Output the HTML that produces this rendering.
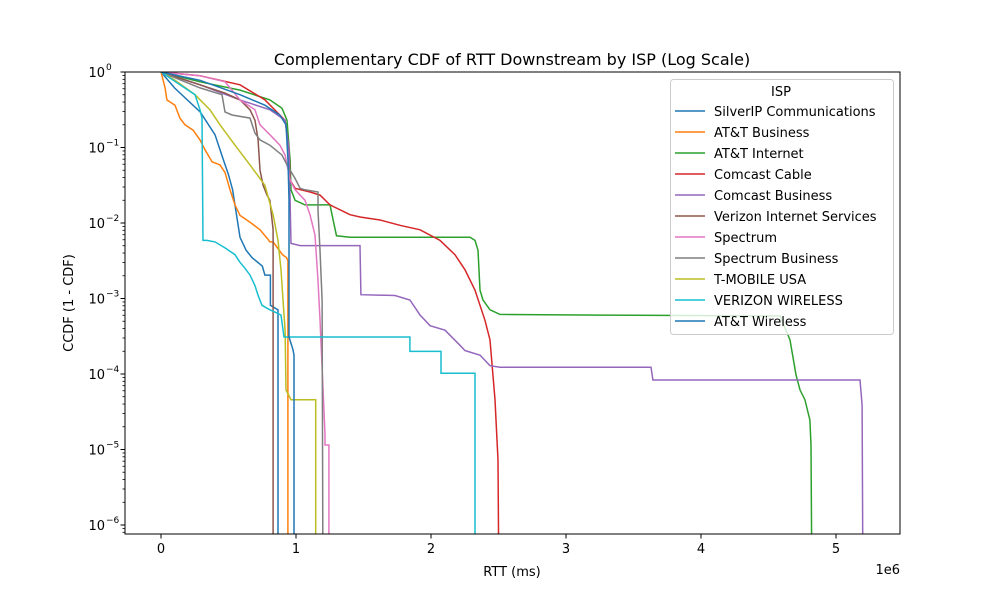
<!DOCTYPE html>
<html><head><meta charset="utf-8"><style>
body{margin:0;background:#fff}
svg text{font-family:"DejaVu Sans","Liberation Sans",sans-serif;fill:#000}
</style></head><body>
<svg id="chart" width="1000" height="600" viewBox="0 0 1000 600" xmlns="http://www.w3.org/2000/svg">
<rect width="1000" height="600" fill="#fff"/>
<defs><clipPath id="pc"><rect x="125" y="72" width="775" height="462"/></clipPath></defs>
<text x="512" y="65" font-size="16" text-anchor="middle">Complementary CDF of RTT Downstream by ISP (Log Scale)</text>
<g id="axes"></g>
<g id="series" clip-path="url(#pc)"></g>
<rect x="125" y="72" width="775" height="462" fill="none" stroke="#000" stroke-width="1"/>
<g id="legend"></g>
<text x="512" y="576" font-size="13" text-anchor="middle">RTT (ms)</text>
<text x="900" y="574" font-size="13" text-anchor="end">1e6</text>
<text x="73" y="303" font-size="13" text-anchor="middle" transform="rotate(-90 73 303)">CCDF (1 - CDF)</text>
</svg>
<script>
// x values in units of 1e6 ms; y values as log10(CCDF)
const names = ["SilverIP Communications","AT&T Business","AT&T Internet","Comcast Cable","Comcast Business","Verizon Internet Services","Spectrum","Spectrum Business","T-MOBILE USA","VERIZON WIRELESS","AT&T Wireless"];
const colors = ["#1f77b4","#ff7f0e","#2ca02c","#d62728","#9467bd","#8c564b","#e377c2","#7f7f7f","#bcbd22","#17becf","#1f77b4"];
const xTicks = [0,1,2,3,4,5];
const xTickLabels = ["0","1","2","3","4","5"];
const yTicks = [0,-1,-2,-3,-4,-5,-6];
const yTickLabels = ["0","−1","−2","−3","−4","−5","−6"];

const silverX = [0,0.10,0.29,0.40,0.45,0.50,0.53,0.585,0.63,0.675,0.75,0.77,0.81,0.81,0.867,0.867];
const silverY = [0,-0.21,-0.53,-0.83,-1.1,-1.36,-1.56,-2.19,-2.36,-2.46,-2.57,-2.69,-2.69,-3.09,-3.15,-7];
const attBizX = [0,0.03,0.044,0.104,0.14,0.178,0.237,0.289,0.326,0.378,0.437,0.474,0.511,0.548,0.585,0.659,0.733,0.785,0.807,0.83,0.9,0.93,0.94,0.94];
const attBizY = [0,-0.21,-0.37,-0.44,-0.61,-0.70,-0.77,-0.90,-1.03,-1.19,-1.23,-1.33,-1.56,-1.76,-1.90,-1.99,-2.09,-2.2,-2.25,-2.25,-2.42,-2.46,-2.5,-7];
const attIntX = [0,0.289,0.585,0.807,0.896,0.933,0.956,0.963,0.993,1.067,1.252,1.267,1.30,1.40,2.289,2.326,2.348,2.363,2.385,2.437,2.511,3.252,4.585,4.659,4.704,4.733,4.77,4.807,4.815,4.822];
const attIntY = [0,-0.13,-0.24,-0.37,-0.48,-0.64,-1.17,-1.56,-1.70,-1.76,-1.76,-1.89,-2.17,-2.19,-2.19,-2.23,-2.36,-2.89,-3.02,-3.15,-3.21,-3.22,-3.23,-3.55,-4.01,-4.21,-4.34,-4.61,-4.94,-7];
const comCabX = [0,0.289,0.585,0.77,0.919,0.948,0.956,0.993,1.104,1.178,1.252,1.4,1.474,1.622,1.77,1.919,2.067,2.178,2.252,2.326,2.4,2.437,2.474,2.496,2.504];
const comCabY = [0,-0.05,-0.17,-0.37,-0.64,-1.03,-1.43,-1.54,-1.59,-1.63,-1.76,-1.89,-1.92,-1.96,-2.03,-2.09,-2.23,-2.42,-2.62,-2.89,-3.29,-3.55,-4.34,-5.14,-7];
const comBizX = [0,0.289,0.585,0.807,0.919,0.948,0.956,0.963,1.03,1.474,1.481,1.733,1.844,1.919,1.993,2.104,2.215,2.252,2.363,2.437,2.511,3.63,3.644,5.178,5.193,5.2];
const comBizY = [0,-0.17,-0.37,-0.50,-0.64,-1.03,-1.70,-2.27,-2.30,-2.30,-2.95,-2.96,-3.02,-3.22,-3.36,-3.42,-3.62,-3.69,-3.75,-3.89,-3.91,-3.91,-4.08,-4.08,-4.41,-7];
const vzInetX = [0,0.289,0.474,0.585,0.659,0.696,0.719,0.733,0.756,0.785,0.807,0.83,0.83];
const vzInetY = [0,-0.17,-0.28,-0.37,-0.50,-0.64,-0.9,-1.30,-1.50,-1.63,-1.70,-2.09,-7];
const spectrumX = [0,0.289,0.474,0.585,0.696,0.733,0.807,0.881,0.919,0.956,0.993,1.067,1.104,1.141,1.163,1.178,1.215,1.215,1.244,1.244];
const spectrumY = [0,-0.05,-0.13,-0.37,-0.50,-0.70,-0.83,-0.97,-1.10,-1.43,-1.56,-1.70,-1.89,-2.16,-2.76,-3.28,-4.8,-4.94,-4.94,-7];
const specBizX = [0,0.289,0.452,0.474,0.526,0.659,0.696,0.733,0.807,0.896,0.933,0.993,1.03,1.067,1.163,1.163,1.178,1.193,1.2];
const specBizY = [0,-0.21,-0.30,-0.53,-0.57,-0.61,-0.81,-0.90,-0.97,-1.10,-1.23,-1.41,-1.54,-1.56,-1.59,-1.83,-2.36,-3.02,-7];
const tmoX = [0,0.104,0.252,0.363,0.437,0.548,0.659,0.77,0.83,0.867,0.889,0.904,0.919,0.926,0.963,1.146,1.146];
const tmoY = [0,-0.11,-0.30,-0.50,-0.70,-0.97,-1.23,-1.50,-1.89,-2.23,-2.62,-3.02,-3.42,-4.21,-4.34,-4.34,-7];
const vzWirelessX = [0,0.141,0.252,0.289,0.304,0.311,0.341,0.4,0.474,0.548,0.585,0.622,0.659,0.696,0.719,0.748,0.807,0.844,0.889,0.911,1.844,1.844,2.074,2.074,2.326,2.326];
const vzWirelessY = [0,-0.17,-0.30,-0.50,-0.61,-2.23,-2.23,-2.25,-2.33,-2.42,-2.52,-2.60,-2.69,-2.83,-2.96,-3.09,-3.15,-3.18,-3.22,-3.51,-3.51,-3.70,-3.70,-3.99,-3.99,-7];
const attWlX = [0,0.289,0.585,0.77,0.88,0.926,0.941,0.948,0.948,0.978,0.985,0.985];
const attWlY = [0,-0.11,-0.3,-0.44,-0.57,-0.70,-1.17,-1.7,-3.51,-3.68,-3.75,-7];

const seriesX = [silverX,attBizX,attIntX,comCabX,comBizX,vzInetX,spectrumX,specBizX,tmoX,vzWirelessX,attWlX];
const seriesY = [silverY,attBizY,attIntY,comCabY,comBizY,vzInetY,spectrumY,specBizY,tmoY,vzWirelessY,attWlY];

const NS = "http://www.w3.org/2000/svg";
function X(v){ return 161 + v*135; }
function Y(l){ return 72 - l*75.5; }
function mk(tag, attrs, parent){ const e=document.createElementNS(NS,tag); for(const k in attrs) e.setAttribute(k,attrs[k]); parent.appendChild(e); return e; }

const axes = document.getElementById('axes');
xTicks.forEach((t,i)=>{
  const ln = mk('line',{x1:X(t),x2:X(t),y1:534,y2:538.5,stroke:'#000'},axes);
  
  
  const tx = mk('text',{x:X(t),y:553,'font-size':13,'text-anchor':'middle'},axes);
  tx.textContent = xTickLabels[i];
  
  
});
yTicks.forEach((t,i)=>{
  const ln = mk('line',{x1:120.5,x2:125,y1:Y(t),y2:Y(t),stroke:'#000'},axes);
  
  
  const tx = mk('text',{x:105,y:Y(t)+5,'font-size':13,'text-anchor':'end'},axes);
  tx.textContent = '10';
  
  
  const sup = mk('text',{x:106,y:Y(t)-2,'font-size':9,'text-anchor':'start'},axes);
  sup.textContent = yTickLabels[i];
  
  
  for(let m=2;m<10;m++){
    const yy = Y(t-1+Math.log10(m));
    if(yy>534||yy<72) continue;
    const mn = mk('line',{x1:122.5,x2:125,y1:yy,y2:yy,stroke:'#000','stroke-width':0.8},axes);
    
    
  }
});

const sg = document.getElementById('series');
seriesX.forEach((xs,i)=>{
  const ys = seriesY[i];
  const pts = xs.map((x,j)=>X(x).toFixed(1)+','+Y(ys[j]).toFixed(1)).join(' ');
  const pl = mk('polyline',{points:pts,fill:'none',stroke:colors[i],'stroke-width':1.5,'stroke-linejoin':'miter'},sg);
  
  
});

const lg = document.getElementById('legend');
const box = mk('rect',{x:670.5,y:79.5,width:223,height:255,rx:3,fill:'#fff','fill-opacity':0.8,stroke:'#ccc'},lg);


const lt = mk('text',{x:781,y:96,'font-size':13,'text-anchor':'middle'},lg);
lt.textContent='ISP';


names.forEach((n,i)=>{
  const y = 111 + i*21;
  const l = mk('line',{x1:675,x2:705,y1:y,y2:y,stroke:colors[i],'stroke-width':1.5},lg);
  
  
  const t = mk('text',{x:714,y:y+5,'font-size':13},lg);
  t.textContent = n;
  
  
});
</script>
</body></html>
